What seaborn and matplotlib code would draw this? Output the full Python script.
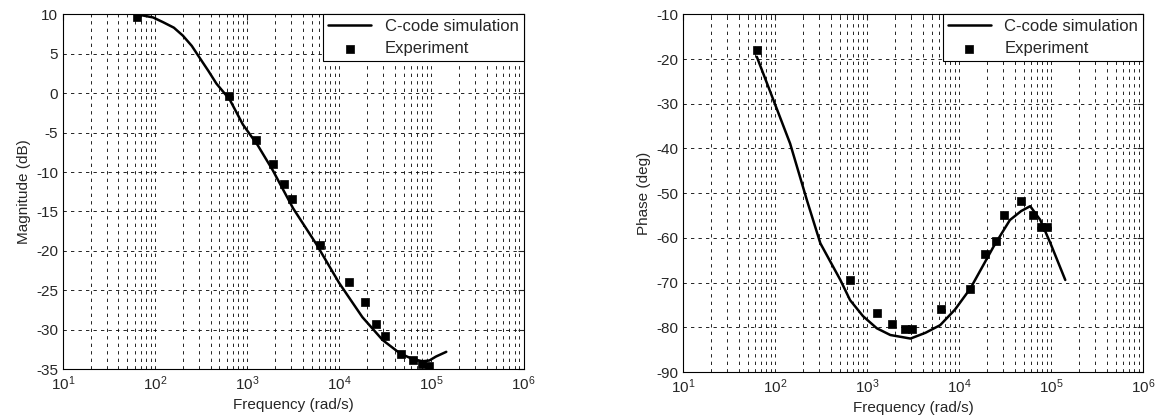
"""Bode plot: C-code simulation vs experiment (magnitude and phase)."""
import numpy as np
import pandas as pd
import matplotlib
matplotlib.use("Agg")
import matplotlib.pyplot as plt
import matplotlib.ticker as mticker
import seaborn as sns

# simulation curve
sim_freq = [63, 95, 122, 160, 200, 250, 300, 380, 464, 645, 900, 1300, 1900, 3150,
            5600, 10000, 17800, 29500, 45600, 62000, 80000, 95000, 112000, 145000]
sim_mag = [10.0, 9.6, 9.0, 8.3, 7.3, 6.0, 4.6, 2.8, 1.2, -0.8, -4.0, -6.6, -9.8,
           -14.6, -19.1, -24.1, -28.4, -31.3, -33.0, -33.7, -34.0, -33.9, -33.4, -32.8]

sim_ph_freq = [63, 145, 221, 309, 510, 650, 900, 1270, 1780, 2950, 4300, 6200, 9000,
               13200, 23500, 35500, 47000, 59000, 76000, 98000, 142000]
sim_phase = [-19.5, -38.9, -51.6, -61.2, -69.4, -73.9, -77.5, -80.2, -81.7, -82.5,
             -81.2, -79.5, -76.0, -71.3, -62.0, -56.0, -54.0, -52.9, -56.0, -61.2, -69.4]

# experimental points
exp_freq = [63, 630, 1260, 1900, 2500, 3100, 6200, 12700, 19200, 25000, 31600,
            47000, 63000, 79000, 95000]
exp_mag = [9.6, -0.3, -5.9, -9.0, -11.5, -13.4, -19.2, -23.9, -26.5, -29.3, -30.8,
           -33.1, -33.8, -34.3, -34.6]

exp_ph_freq = [63, 650, 1270, 1880, 2540, 3090, 6300, 13000, 19000, 25300, 31000,
               47000, 63000, 78000, 91000]
exp_phase = [-17.9, -69.4, -76.7, -79.3, -80.3, -80.3, -75.8, -71.5, -63.5, -60.7,
             -54.9, -51.7, -54.8, -57.5, -57.5]

sns.set_style("white")
plt.rcParams["font.family"] = ["Liberation Sans", "DejaVu Sans"]
plt.rcParams["font.size"] = 11
plt.rcParams["axes.unicode_minus"] = False

fig = plt.figure(figsize=(11.66, 4.2), dpi=100)
ax1 = fig.add_axes([0.054, 0.121, 0.395, 0.845])
ax2 = fig.add_axes([0.586, 0.114, 0.3945, 0.852])


def draw(ax, sf, sv, ef, ev, ylim, ystep, ylabel):
    sim = pd.DataFrame({"freq": sf, "val": sv})
    exp = pd.DataFrame({"freq": ef, "val": ev})
    sns.lineplot(data=sim, x="freq", y="val", ax=ax, color="black", linewidth=1.8,
                 label="C-code simulation", sort=False)
    sns.scatterplot(data=exp, x="freq", y="val", ax=ax, color="black", marker="s",
                    s=36, edgecolor="black", linewidth=0.5, label="Experiment", zorder=5)
    ax.set_xscale("log")
    ax.set_xlim(10, 1e6)
    ax.set_ylim(*ylim)
    ax.yaxis.set_major_locator(mticker.MultipleLocator(ystep))
    ax.xaxis.set_major_locator(mticker.LogLocator(base=10, numticks=10))
    ax.xaxis.set_minor_locator(mticker.LogLocator(base=10, subs=np.arange(2, 10), numticks=20))
    ax.xaxis.set_minor_formatter(mticker.NullFormatter())
    ax.grid(True, which="major", axis="both", color="black", linestyle=(0, (4, 5)), linewidth=0.6)
    ax.grid(True, which="minor", axis="x", color="black", linestyle=(0, (4, 5)), linewidth=0.6)
    ax.tick_params(which="both", direction="in", top=True, right=True, labelsize=11)
    ax.tick_params(which="major", length=4)
    ax.tick_params(which="minor", length=2)
    for sp in ax.spines.values():
        sp.set_color("black")
        sp.set_linewidth(0.8)
    ax.set_xlabel("Frequency (rad/s)", fontsize=11)
    ax.set_ylabel(ylabel, fontsize=11)
    leg = ax.legend(loc="upper right", borderaxespad=0, fancybox=False, framealpha=1,
                    edgecolor="black", fontsize=12, handlelength=2.6, borderpad=0.3,
                    labelspacing=0.4)
    leg.get_frame().set_linewidth(0.8)


draw(ax1, sim_freq, sim_mag, exp_freq, exp_mag, (-35, 10), 5, "Magnitude (dB)")
draw(ax2, sim_ph_freq, sim_phase, exp_ph_freq, exp_phase, (-90, -10), 10, "Phase (deg)")

fig.savefig("out.png", dpi=100)
